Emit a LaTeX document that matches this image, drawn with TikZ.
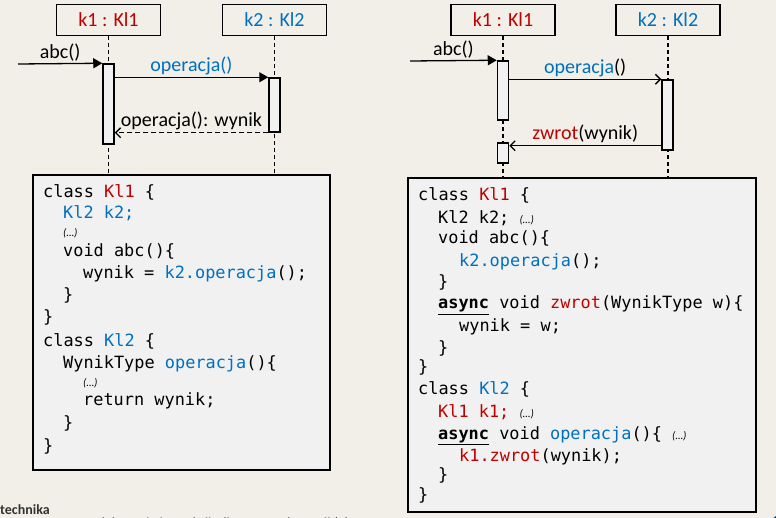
\documentclass[tikz,border=0pt]{standalone}
\usepackage{fontspec}
\setmainfont{Carlito}
\newfontfamily\codefont{DejaVu Sans Mono}
\usetikzlibrary{positioning,arrows.meta}
\definecolor{klred}{HTML}{C00000}
\definecolor{klblue}{HTML}{0070C0}
\definecolor{bgcol}{HTML}{F1EFE8}
\definecolor{barfill}{HTML}{F1F1F1}
\newcommand\etcdots{{\rmfamily\fontsize{11}{13}\selectfont\itshape(…)}}
\newcommand\asynckw{\underline{\textbf{async}}}

\begin{document}
\begin{tikzpicture}[x=1pt, y=-1pt,
    obj/.style={rectangle, draw, line width=1.5pt, minimum width=104pt, minimum height=31pt, font=\fontsize{20}{24}\selectfont},
    bar/.style={rectangle, draw, line width=1.5pt, fill=barfill, minimum width=11pt, inner sep=0},
    life/.style={line width=1.2pt, dash pattern=on 4pt off 3pt},
    call/.style={-{Triangle[length=9pt,width=10pt]}, line width=1.3pt},
    reply/.style={-{Straight Barb[length=5pt,width=10pt]}, line width=1.3pt},
    lab/.style={font=\fontsize{20}{24}\selectfont, inner sep=2pt},
    codebox/.style={rectangle, draw, line width=1.3pt, fill=barfill},
    code/.style={anchor=base west, inner sep=0, font=\codefont\fontsize{16.9}{20}\selectfont},
    etc/.style={anchor=base west, inner sep=0, font=\fontsize{11}{13}\selectfont\itshape}
]
    \useasboundingbox (0,0) rectangle (776,518);
    \clip (0,0) rectangle (776,518);
    \fill[bgcol] (0,0) rectangle (776,518);

    % left: synchronous call
    \node[obj, text=klred] (k1a) at (108.5,20) {k1 : Kl1};
    \node[obj, text=klblue] (k2a) at (274.5,20) {k2 : Kl2};
    \node[codebox, minimum width=297pt, minimum height=295pt] (codeA) at (181.5,322.5) {};
    \draw[life] (k1a) -- (k1a |- codeA.north);
    \draw[life] (k2a) -- (k2a |- codeA.north);
    \node[bar, minimum height=80pt] (a1a) at (108.5,104) {};
    \node[bar, minimum height=54pt] (a2a) at (274.5,105) {};
    \coordinate (ina) at (18,64);

    \draw[call] (ina) -- node[lab, above] {abc()} (a1a.north west);
    \draw[call] (a1a.east |- a2a.north) -- node[lab, above, text=klblue] {operacja()} (a2a.north west);
    \draw[reply, dash pattern=on 5pt off 3pt] (a2a.south west) -- node[lab, above] {operacja(): wynik} (a1a.east |- a2a.south);

    \node[code] (l1) at (43,198) {class \textcolor{klred}{Kl1} \{};
    \node[code, text=klblue] (l2) at (63,219) {Kl2 k2;};
    \node[etc] (l3) at (63,237) {(…)};
    \node[code] (l4) at (63,257) {void abc()\{};
    \node[code] (l5) at (83,279) {wynik = \textcolor{klblue}{k2.operacja}();};
    \node[code] (l6) at (63,301) {\}};
    \node[code] (l7) at (43,323) {\}};
    \node[code] (l8) at (43,347) {class \textcolor{klblue}{Kl2} \{};
    \node[code] (l9) at (63,369) {WynikType \textcolor{klblue}{operacja}()\{};
    \node[etc] (l10) at (83,386) {(…)};
    \node[code] (l11) at (83,405) {return wynik;};
    \node[code] (l12) at (63,428) {\}};
    \node[code] (l13) at (43,451) {\}};

    % right: asynchronous call with callback
    \node[obj, text=klred] (k1b) at (503,20) {k1 : Kl1};
    \node[obj, text=klblue] (k2b) at (668,20) {k2 : Kl2};
    \node[codebox, minimum width=348pt, minimum height=334pt] (codeB) at (582,345) {};
    \draw[life] (k1b) -- (k1b |- codeB.north);
    \draw[life] (k2b) -- (k2b |- codeB.north);
    \node[bar, minimum height=59pt] (b1) at (503,90.5) {};
    \node[bar, minimum height=20pt] (b3) at (503,153) {};
    \node[bar, minimum height=70pt] (b2) at (667.5,115) {};
    \coordinate (inb) at (410,61);

    \draw[call] (inb) -- node[lab, above] {abc()} (b1.north west);
    \draw[reply] (b1.east |- b2.north) -- node[lab, above] {\textcolor{klblue}{operacja}()} (b2.north west);
    \draw[reply] ([yshift=5pt]b2.south west) -- node[lab, above] {\textcolor{klred}{zwrot}(wynik)} ([yshift=5pt]b2.south west -| b3.east);

    \node[code] (r1) at (418,201) {class \textcolor{klred}{Kl1} \{};
    \node[code] (r2) at (438,224) {Kl2 k2; \etcdots};
    \node[code] (r3) at (438,244) {void abc()\{};
    \node[code] (r4) at (459,267) {\textcolor{klblue}{k2.operacja}();};
    \node[code] (r5) at (438,288) {\}};
    \node[code] (r6) at (438,309) {\asynckw{} void \textcolor{klred}{zwrot}(WynikType w)\{};
    \node[code] (r7) at (459,332) {wynik = w;};
    \node[code] (r8) at (438,353) {\}};
    \node[code] (r9) at (418,373) {\}};
    \node[code] (r10) at (418,394) {class \textcolor{klblue}{Kl2} \{};
    \node[code] (r11) at (438,417) {\textcolor{klred}{Kl1 k1;} \etcdots};
    \node[code] (r12) at (438,439) {\asynckw{} void \textcolor{klblue}{operacja}()\{ \etcdots};
    \node[code] (r13) at (459,461) {\textcolor{klred}{k1.zwrot}(wynik);};
    \node[code] (r14) at (438,480) {\}};
    \node[code] (r15) at (418,500) {\}};

    % footer
    \node[anchor=base west, inner sep=0, font=\fontsize{14}{16}\selectfont\bfseries, text=black!80] (uni) at (0,514) {technika};
    \node[anchor=base west, inner sep=0, font=\fontsize{14}{16}\selectfont, text=black!80] (title) at (78,527) {Modelowanie interakcji: diagramy sekwencji (2)};
    \node[anchor=base west, inner sep=0, font=\fontsize{12}{14}\selectfont, text=klblue!60!black] (page) at (772,524) {1};
\end{tikzpicture}
\end{document}
